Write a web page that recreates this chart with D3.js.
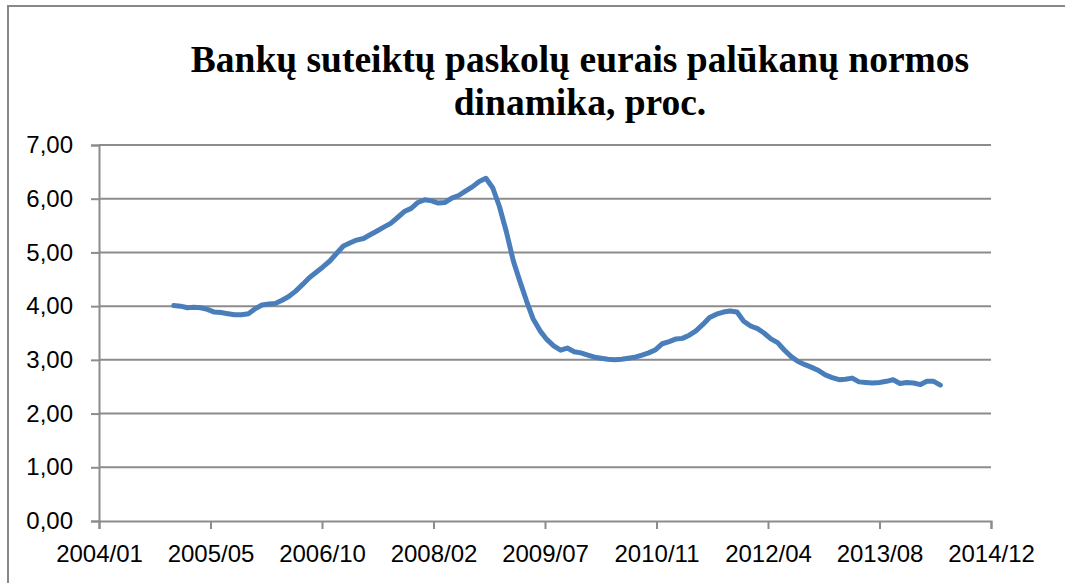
<!DOCTYPE html>
<html><head><meta charset="utf-8">
<script src="https://cdn.jsdelivr.net/npm/d3@7"></script>
<style>html,body{margin:0;padding:0;background:#fff;}svg{display:block;}</style>
</head><body>
<svg id="chart" width="1065" height="583"></svg>
<script>
const titleLines = ["Bankų suteiktų paskolų eurais palūkanų normos", "dinamika, proc."];
const startMonth = "2004/12";
const rates = [
  4.01, 4.00, 3.97, 3.98, 3.97, 3.94, 3.89, 3.88, 3.86, 3.84, 3.84, 3.86, 3.95,
  4.02, 4.04, 4.05, 4.11, 4.18, 4.28, 4.40, 4.53, 4.63, 4.73, 4.84, 4.98,
  5.12, 5.18, 5.23, 5.26, 5.33, 5.40, 5.47, 5.54, 5.65, 5.76, 5.82, 5.93,
  5.98, 5.96, 5.92, 5.93, 6.01, 6.06, 6.14, 6.22, 6.32, 6.38, 6.20, 5.85,
  5.38, 4.84, 4.48, 4.10, 3.76, 3.54, 3.38, 3.26, 3.18, 3.22, 3.15, 3.13,
  3.09, 3.05, 3.03, 3.01, 3.00, 3.01, 3.03, 3.05, 3.09, 3.13, 3.19, 3.30,
  3.34, 3.39, 3.40, 3.46, 3.54, 3.66, 3.79, 3.85, 3.89, 3.91, 3.89, 3.72,
  3.63, 3.58, 3.50, 3.39, 3.32, 3.18, 3.06, 2.97, 2.91, 2.86, 2.80, 2.72,
  2.67, 2.63, 2.64, 2.66, 2.59, 2.58, 2.57, 2.58, 2.60, 2.63, 2.56, 2.58,
  2.57, 2.54, 2.60, 2.60, 2.53
];
const yTicks = [0, 1, 2, 3, 4, 5, 6, 7];
const xTickLabels = ["2004/01","2005/05","2006/10","2008/02","2009/07","2010/11","2012/04","2013/08","2014/12"];

const parse = d3.timeParse("%Y/%m");
const fmtNum = v => v.toFixed(2).replace(".", ",");
const start = parse(startMonth);
const data = rates.map((v, i) => ({date: d3.timeMonth.offset(start, i), value: v}));

const svg = d3.select("#chart");
const L = 99, R = 991, T = 145, B = 521;
const x0 = parse("2004/01");
const x1 = d3.timeDay.offset(x0, 4000);
const x = d3.scaleTime().domain([x0, x1]).range([L, R]);
const y = d3.scaleLinear().domain([0, 7]).range([B, T]);
const tickDates = d3.range(0, 9).map(i => d3.timeDay.offset(x0, i * 500));

// outer border
svg.append("rect").attr("x", 8).attr("y", 6).attr("width", 1070).attr("height", 600)
  .attr("fill", "none").attr("stroke", "#888").attr("stroke-width", 2);

// title
svg.append("g").selectAll("text").data(titleLines).join("text")
  .attr("x", 580).attr("y", (d, i) => 72 + i * 43)
  .attr("text-anchor", "middle")
  .attr("font-family", "'Liberation Serif', 'Times New Roman', serif")
  .attr("font-weight", "bold").attr("font-size", 37.5).attr("fill", "#000")
  .text(d => d);

// gridlines
svg.append("g").selectAll("line").data(yTicks.filter(v => v > 0)).join("line")
  .attr("x1", L).attr("x2", R).attr("y1", d => y(d)).attr("y2", d => y(d))
  .attr("stroke", "#8c8c8c").attr("stroke-width", 2);

// y axis
const yAxis = svg.append("g").attr("transform", `translate(${L},0)`)
  .call(d3.axisLeft(y).tickValues(yTicks).tickFormat(fmtNum).tickSize(8).tickPadding(18));
// x axis
const xAxis = svg.append("g").attr("transform", `translate(0,${B})`)
  .call(d3.axisBottom(x).tickValues(tickDates).tickFormat((d, i) => xTickLabels[i]).tickSize(8).tickPadding(16));

[yAxis, xAxis].forEach(g => {
  g.select(".domain").attr("stroke", "#8c8c8c").attr("stroke-width", 2);
  g.selectAll(".tick line").attr("stroke", "#8c8c8c").attr("stroke-width", 2);
  g.selectAll("text").attr("font-family", "'Liberation Sans', Arial, sans-serif")
    .attr("font-size", 24).attr("fill", "#000");
});

// line
svg.append("path").datum(data)
  .attr("fill", "none").attr("stroke", "#4A7EBB").attr("stroke-width", 5)
  .attr("stroke-linejoin", "round").attr("stroke-linecap", "round")
  .attr("d", d3.line().x(d => x(d.date)).y(d => y(d.value)));
</script>
</body></html>
